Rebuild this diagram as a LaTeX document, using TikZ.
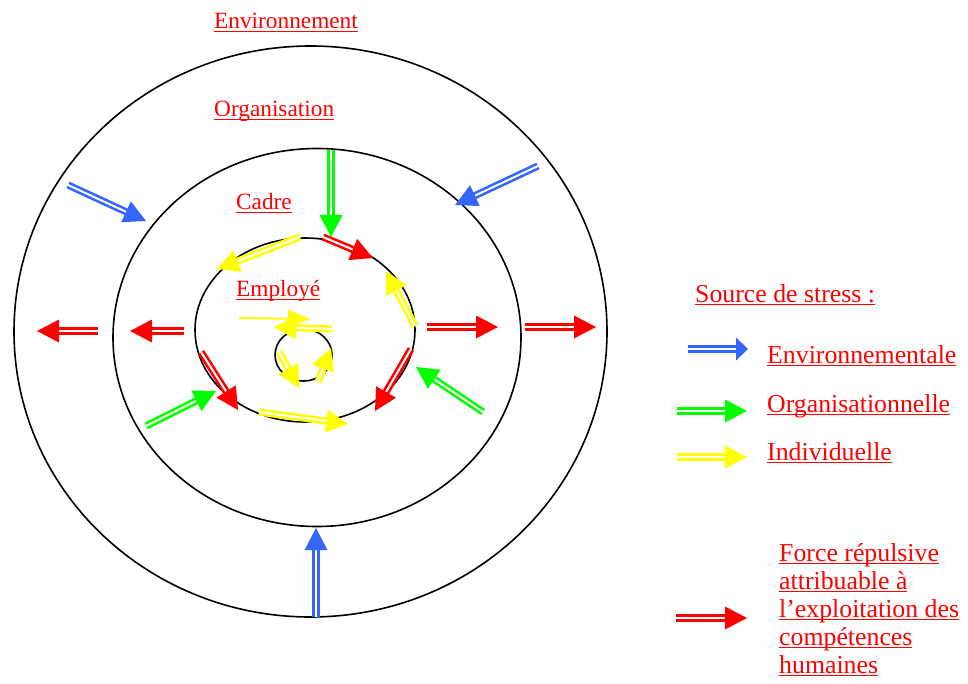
\documentclass[tikz,border=0pt]{standalone}
\usepackage{fontspec}
\setmainfont{Liberation Serif}
\usetikzlibrary{calc}
\definecolor{sblue}{RGB}{51,102,255}
\definecolor{sgreen}{RGB}{0,255,0}
\definecolor{syellow}{RGB}{255,255,0}
\definecolor{sred}{RGB}{255,0,0}
\newcommand\ulx[1]{\setbox0\hbox{#1}\rlap{\rule[-3pt]{\wd0}{1.2pt}}\box0}
\tikzset{
  ring/.style={draw=black, line width=1.6pt},
  lbl/.style={anchor=base west, inner sep=0pt, text=sred, font=\fontsize{23.3}{28}\selectfont},
  leg/.style={lbl, font=\fontsize{25.8}{28}\selectfont},
  shaft/.style={line width=2.6pt, double=white, double distance=2pt, shorten >=20pt},
}
% #1 head length, #2 colour, #3 from, #4 to
\newcommand\darr[4][22pt]{%
  \draw[#2, shaft] (#3) -- (#4);
  \fill[#2] (#4) -- ($(#4)!#1!(#3)!11.5pt!90:(#3)$) -- ($(#4)!#1!(#3)!11.5pt!-90:(#3)$) -- cycle;
}
\begin{document}
\begin{tikzpicture}[x=1pt,y=-1pt]
\useasboundingbox (0,0) rectangle (968,684);
% rings
\draw[ring] (310.5,331.5) ellipse [x radius=296.5pt, y radius=285.5pt];
\draw[ring] (317,337.5) ellipse [x radius=204pt, y radius=189pt];
\draw[ring] (305,330) ellipse [x radius=110pt, y radius=92pt];
\draw[ring] (303.5,355) ellipse [x radius=28.5pt, y radius=26pt];
% labels
\node[lbl] (env) at (214,29) {\ulx{Environnement}};
\node[lbl] (org) at (214,117) {\ulx{Organisation}};
\node[lbl] (cad) at (236,210) {\ulx{Cadre}};
\node[lbl] (emp) at (236,297) {\ulx{Employé}};
% coordinates
\coordinate (bA1) at (68,185);  \coordinate (bA2) at (146,221);
\coordinate (bB1) at (538,166); \coordinate (bB2) at (455,205);
\coordinate (bC1) at (316,617); \coordinate (bC2) at (316,528);
\coordinate (gA1) at (331,150); \coordinate (gA2) at (331,237);
\coordinate (gB1) at (146,426); \coordinate (gB2) at (216,391);
\coordinate (gC1) at (483,412); \coordinate (gC2) at (416,367);
\coordinate (rA1) at (427,327); \coordinate (rA2) at (498,327);
\coordinate (rB1) at (525,327); \coordinate (rB2) at (596,327);
\coordinate (rC1) at (184,331); \coordinate (rC2) at (130,331);
\coordinate (rD1) at (98,331);  \coordinate (rD2) at (37,331);
\coordinate (rE1) at (323,237); \coordinate (rE2) at (373,258);
\coordinate (rF1) at (411,349); \coordinate (rF2) at (375,411);
\coordinate (rG1) at (201,352); \coordinate (rG2) at (238,410);
\coordinate (yA1) at (300,237); \coordinate (yA2) at (217,269);
\coordinate (yB1) at (415,326); \coordinate (yB2) at (386,271);
\coordinate (yC1) at (259,412); \coordinate (yC2) at (348,424);
\coordinate (yD1) at (239,318); \coordinate (yD2) at (310,319);
\coordinate (yE1) at (332,329); \coordinate (yE2) at (274,327);
\coordinate (yF1) at (279,352); \coordinate (yF2) at (299,388);
\coordinate (yG1) at (318,382); \coordinate (yG2) at (331,348);
% arrows
\darr{sblue}{bA1}{bA2}
\darr{sblue}{bB1}{bB2}
\darr{sblue}{bC1}{bC2}
\darr{sgreen}{gA1}{gA2}
\darr{sgreen}{gB1}{gB2}
\darr{sgreen}{gC1}{gC2}
\darr{sred}{rA1}{rA2}
\darr{sred}{rB1}{rB2}
\darr{sred}{rC1}{rC2}
\darr{sred}{rD1}{rD2}
\darr{sred}{rE1}{rE2}
\darr{sred}{rF1}{rF2}
\darr{sred}{rG1}{rG2}
\darr{syellow}{yA1}{yA2}
\darr{syellow}{yB1}{yB2}
\darr{syellow}{yC1}{yC2}
\draw[syellow, line width=2pt, shorten >=20pt] (yD1) -- (yD2);
\fill[syellow] (yD2) -- ($(yD2)!22pt!(yD1)!9pt!90:(yD1)$) -- ($(yD2)!22pt!(yD1)!9pt!-90:(yD1)$) -- cycle;
\darr{syellow}{yE1}{yE2}
\darr{syellow}{yF1}{yF2}
\darr{syellow}{yG1}{yG2}
% legend
\node[leg] (src) at (695,302) {\ulx{Source de stress :}};
\coordinate (lb1) at (688,349); \coordinate (lb2) at (748,349);
\coordinate (lg1) at (677,411); \coordinate (lg2) at (747,411);
\coordinate (ly1) at (677,457); \coordinate (ly2) at (747,457);
\coordinate (lr1) at (676,618); \coordinate (lr2) at (747,618);
\draw[sblue, line width=2.6pt, double=white, double distance=2pt, shorten >=10pt] (lb1) -- (lb2);
\fill[sblue] (lb2) -- ($(lb2)!12pt!(lb1)!11.5pt!90:(lb1)$) -- ($(lb2)!12pt!(lb1)!11.5pt!-90:(lb1)$) -- cycle;
\darr{sgreen}{lg1}{lg2}
\darr{syellow}{ly1}{ly2}
\darr{sred}{lr1}{lr2}
\node[leg] (len) at (767,363) {\ulx{Environnementale}};
\node[leg] (lor) at (767,412) {\ulx{Organisationnelle}};
\node[leg] (lin) at (767,460) {\ulx{Individuelle}};
\node[leg] (lf1) at (779,561) {\ulx{Force répulsive}};
\node[leg] (lf2) at (779,589) {\ulx{attribuable à}};
\node[leg] (lf3) at (779,617) {\ulx{l’exploitation des}};
\node[leg] (lf4) at (779,645) {\ulx{compétences}};
\node[leg] (lf5) at (779,673) {\ulx{humaines}};
\end{tikzpicture}
\end{document}
